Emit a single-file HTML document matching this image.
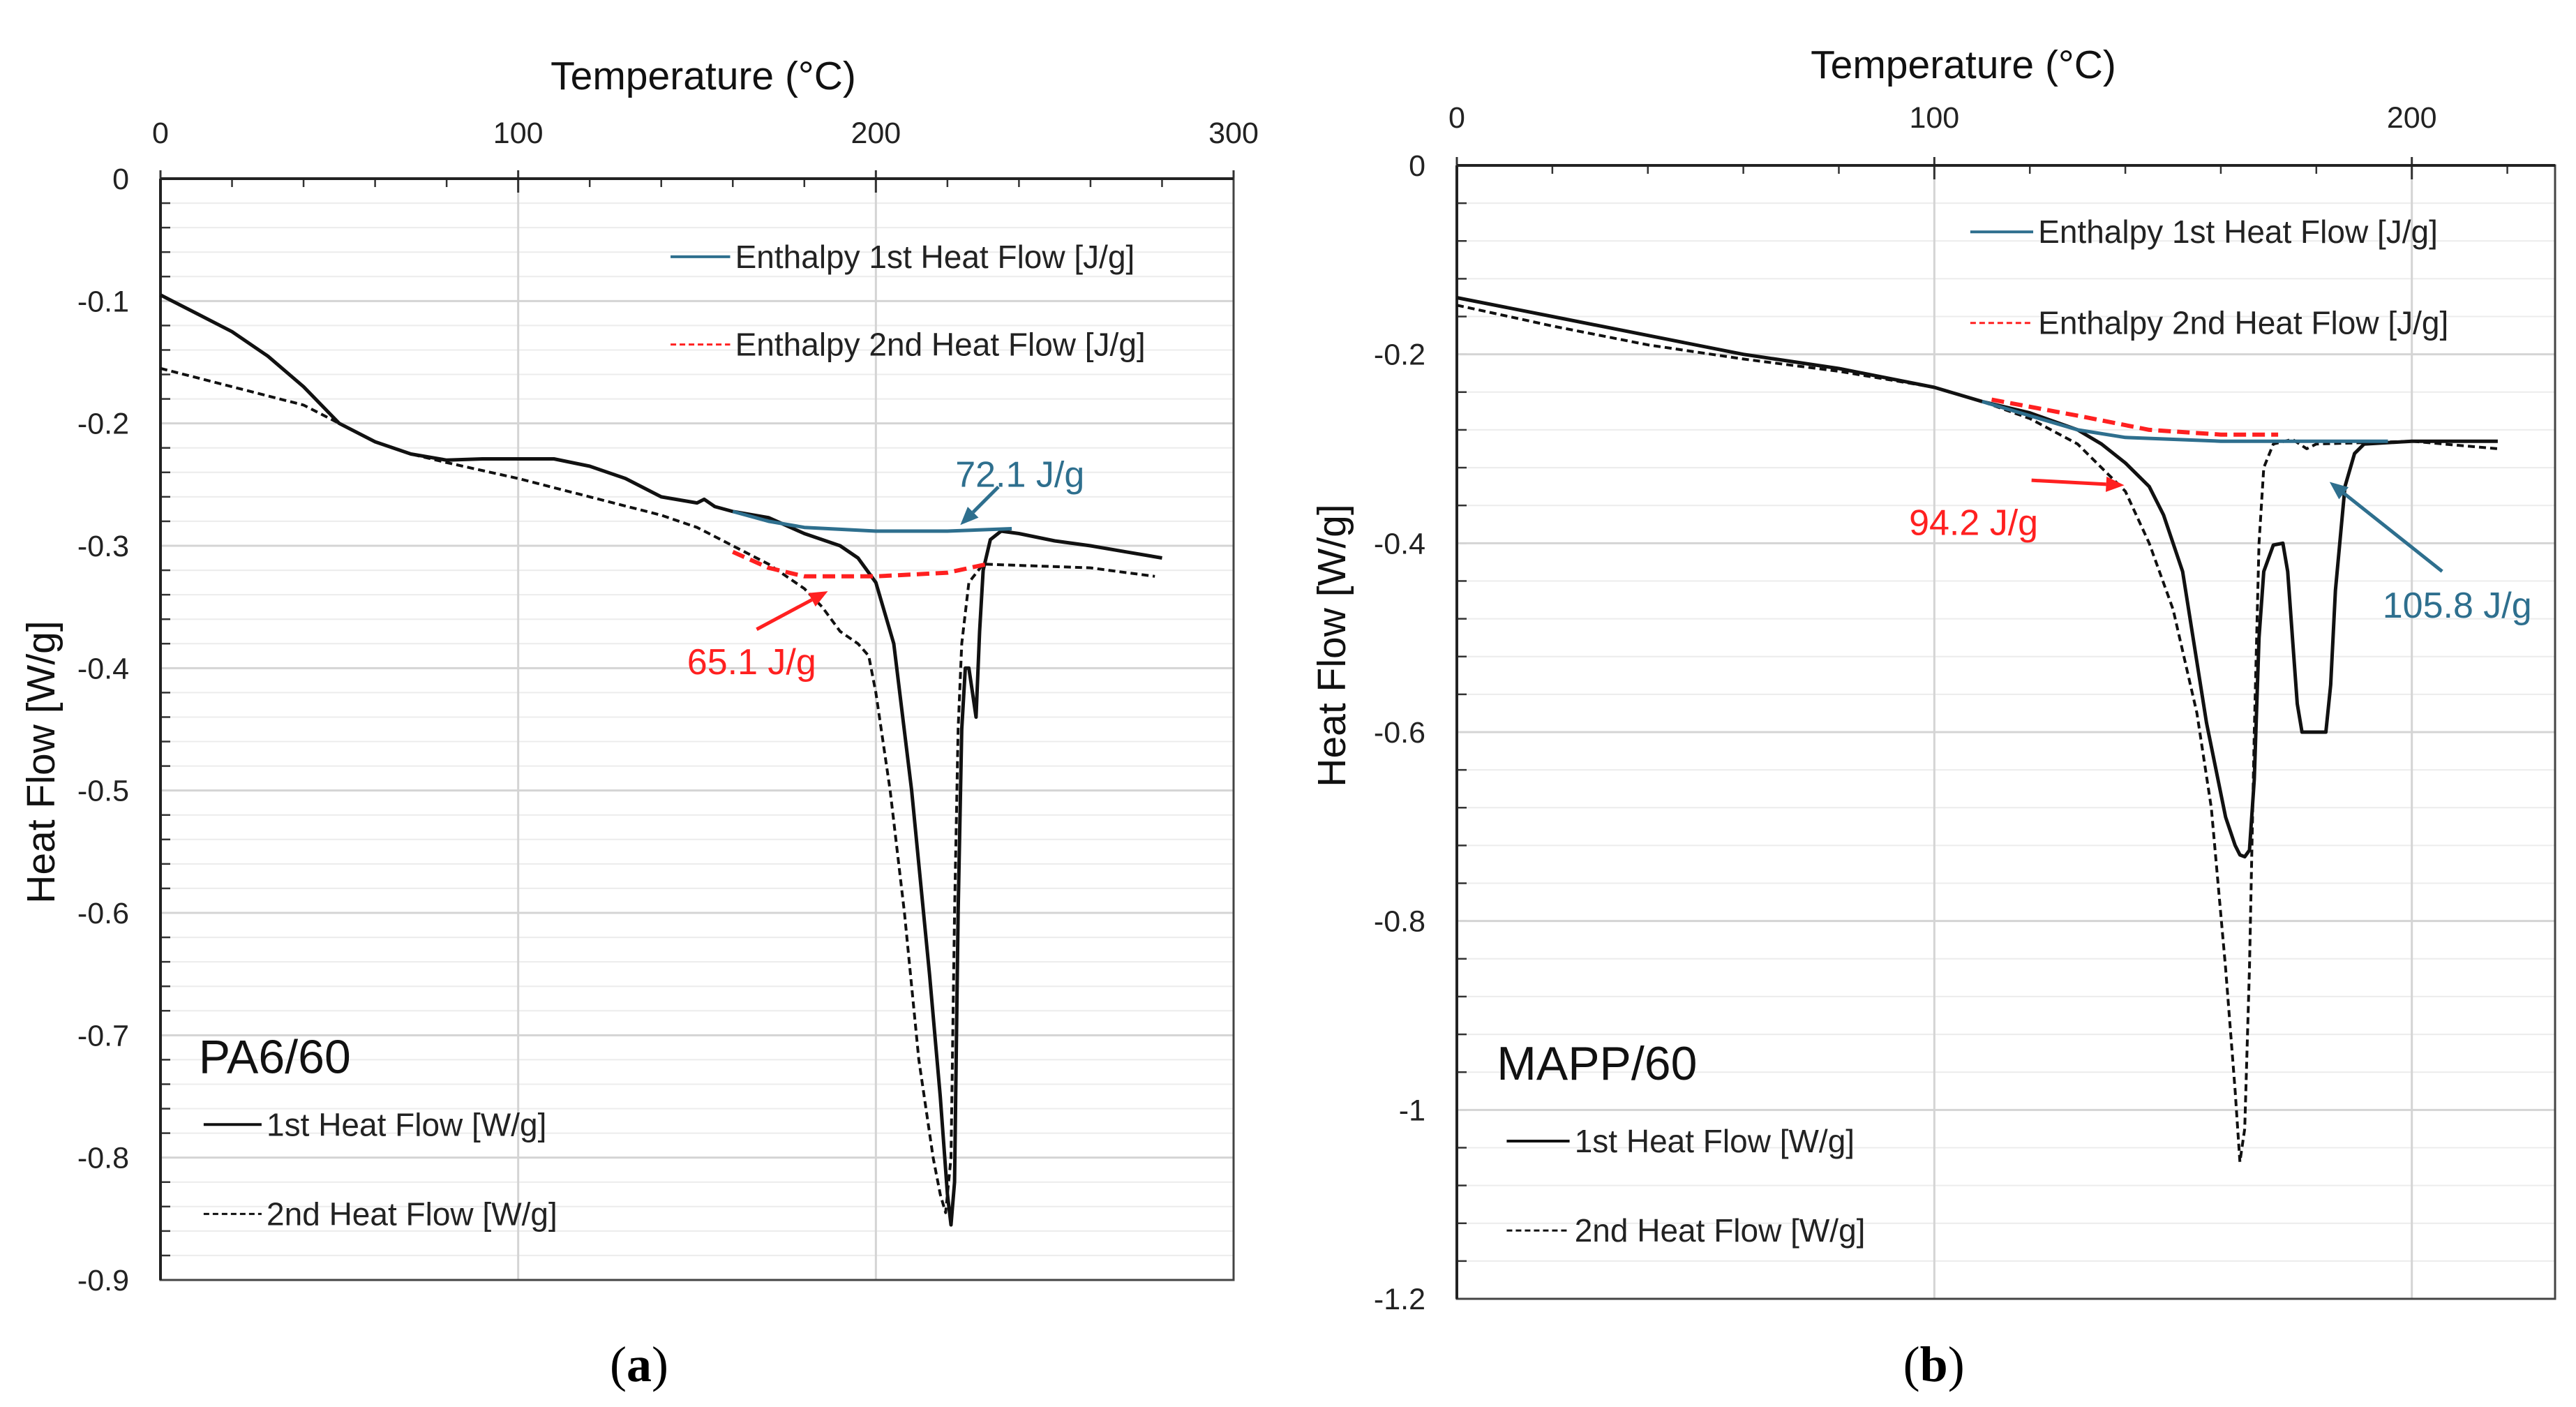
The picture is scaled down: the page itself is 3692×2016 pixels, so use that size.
<!DOCTYPE html>
<html><head><meta charset="utf-8"><style>
html,body{margin:0;padding:0;background:#fff}
svg{display:block;font-family:"Liberation Sans",sans-serif}
</style></head><body>
<svg id="fig" width="3692" height="2016" viewBox="0 0 3692 2016" xmlns="http://www.w3.org/2000/svg"></svg>
<script>
// ---------- Panel (a) PA6/60 data ----------
const aFirstT = [0,10,20,30,40,50,60,70,80,90,100,110,120,130,140,150,152,155,160,170,180,190,195,200,205,210,215,218,220,221,222,223,224,225,226,227,228,229,230,232,235,240,250,260,270,280];
const aFirstV = [-0.095,-0.11,-0.125,-0.145,-0.17,-0.2,-0.215,-0.225,-0.23,-0.229,-0.229,-0.229,-0.235,-0.245,-0.26,-0.265,-0.262,-0.268,-0.272,-0.277,-0.29,-0.3,-0.31,-0.33,-0.38,-0.5,-0.65,-0.75,-0.83,-0.855,-0.82,-0.6,-0.45,-0.4,-0.4,-0.42,-0.44,-0.37,-0.32,-0.295,-0.288,-0.29,-0.296,-0.3,-0.305,-0.31];
const aSecondT = [0,20,40,50,60,70,80,100,120,140,150,160,170,180,185,190,195,198,200,204,208,212,216,218,219.5,221,222,223,224,226,230,240,260,265,278];
const aSecondV = [-0.155,-0.17,-0.185,-0.2,-0.215,-0.225,-0.232,-0.245,-0.26,-0.275,-0.285,-0.3,-0.315,-0.335,-0.35,-0.37,-0.38,-0.39,-0.42,-0.5,-0.6,-0.72,-0.8,-0.83,-0.845,-0.8,-0.6,-0.45,-0.38,-0.33,-0.315,-0.316,-0.318,-0.32,-0.325];
const aEnth1T = [160,170,180,200,220,238];
const aEnth1V = [-0.272,-0.28,-0.285,-0.288,-0.288,-0.286];
const aEnth2T = [160,170,180,200,220,231];
const aEnth2V = [-0.305,-0.318,-0.325,-0.325,-0.322,-0.315];
const aXTicks = [0,100,200,300];
const aYTicks = [0,-0.1,-0.2,-0.3,-0.4,-0.5,-0.6,-0.7,-0.8,-0.9];
const aYLabels = ["0","-0.1","-0.2","-0.3","-0.4","-0.5","-0.6","-0.7","-0.8","-0.9"];

// ---------- Panel (b) MAPP/60 data ----------
const bFirstT = [0,20,40,60,80,100,110,120,130,135,140,145,148,152,157,161,163,164,165,166,167,168,169,171,173,174,175,176,177,182,183,184,186,188,190,200,218];
const bFirstV = [-0.14,-0.16,-0.18,-0.2,-0.215,-0.235,-0.25,-0.262,-0.28,-0.295,-0.315,-0.34,-0.37,-0.43,-0.59,-0.69,-0.72,-0.73,-0.732,-0.725,-0.65,-0.5,-0.43,-0.402,-0.4,-0.43,-0.5,-0.57,-0.6,-0.6,-0.55,-0.45,-0.34,-0.305,-0.295,-0.292,-0.292];
const bSecondT = [0,20,40,60,80,100,110,120,130,135,140,145,150,155,158,161,163,164,165,166,167,168,169,171,175,178,180,200,218];
const bSecondV = [-0.148,-0.17,-0.19,-0.205,-0.218,-0.235,-0.25,-0.268,-0.295,-0.32,-0.345,-0.4,-0.47,-0.58,-0.68,-0.85,-0.98,-1.055,-1.02,-0.85,-0.6,-0.4,-0.32,-0.295,-0.29,-0.3,-0.295,-0.292,-0.3];
const bEnth1T = [110,120,130,140,160,195];
const bEnth1V = [-0.25,-0.265,-0.28,-0.288,-0.292,-0.292];
const bEnth2T = [112,130,145,160,172];
const bEnth2V = [-0.248,-0.265,-0.28,-0.285,-0.285];
const bXTicks = [0,100,200];
const bYTicks = [0,-0.2,-0.4,-0.6,-0.8,-1,-1.2];
const bYLabels = ["0","-0.2","-0.4","-0.6","-0.8","-1","-1.2"];

const NS="http://www.w3.org/2000/svg";
const svg=document.getElementById('fig');
function mk(tag,attrs,parent){const e=document.createElementNS(NS,tag);for(const k in attrs)e.setAttribute(k,attrs[k]);(parent||svg).appendChild(e);return e;}
function txt(s,attrs,parent){const e=mk('text',attrs,parent);e.textContent=s;return e;}

function panel(cfg){
  const g=mk('g',{});
  
  
  const X=t=>cfg.L+(t-cfg.x0)/(cfg.x1-cfg.x0)*(cfg.R-cfg.L);
  const Y=v=>cfg.T+(v-cfg.y0)/(cfg.y1-cfg.y0)*(cfg.B-cfg.T);
  for(let v=cfg.y0;v>=cfg.y1-1e-9;v-=cfg.yMinor){
    const l=mk('line',{x1:cfg.L,x2:cfg.R,y1:Y(v),y2:Y(v),stroke:'#ececec','stroke-width':2},g);
    
    
    const tk=mk('line',{x1:cfg.L,x2:cfg.L+14,y1:Y(v),y2:Y(v),stroke:'#333','stroke-width':2.5},g);
    
    
  }
  cfg.yTicks.forEach((v,i)=>{
    const l=mk('line',{x1:cfg.L,x2:cfg.R,y1:Y(v),y2:Y(v),stroke:'#d4d4d4','stroke-width':3},g);
    
    
    const t=txt(cfg.yLabels[i],{x:cfg.L-45,y:Y(v)+15,'text-anchor':'end','font-size':43,fill:'#222'},g);
    
    
  });
  for(let t=cfg.x0;t<=cfg.x1+1e-9;t+=cfg.xMinor){
    const tk=mk('line',{x1:X(t),x2:X(t),y1:cfg.T,y2:cfg.T+12,stroke:'#333','stroke-width':2.5},g);
    
    
  }
  cfg.xTicks.forEach(t=>{
    const l=mk('line',{x1:X(t),x2:X(t),y1:cfg.T,y2:cfg.B,stroke:'#d4d4d4','stroke-width':3},g);
    
    
    const tk=mk('line',{x1:X(t),x2:X(t),y1:cfg.T-12,y2:cfg.T+20,stroke:'#333','stroke-width':3},g);
    
    
    const lb=txt(String(t),{x:X(t),y:cfg.xLabelY,'text-anchor':'middle','font-size':43,fill:'#222'},g);
    
    
  });
  const fr=mk('rect',{x:cfg.L,y:cfg.T,width:cfg.R-cfg.L,height:cfg.B-cfg.T,fill:'none',stroke:'#444','stroke-width':3},g);
  
  
  const ax=mk('line',{x1:cfg.L,x2:cfg.L,y1:cfg.T,y2:cfg.B,stroke:'#222','stroke-width':4},g);
  
  
  const ax2=mk('line',{x1:cfg.L,x2:cfg.R,y1:cfg.T,y2:cfg.T,stroke:'#222','stroke-width':4},g);
  
  
  const xt=txt('Temperature (°C)',{x:cfg.xTitleX,y:cfg.xTitleY,'text-anchor':'middle','font-size':57,fill:'#111'},g);
  
  
  const yt=txt('Heat Flow [W/g]',{x:0,y:0,'text-anchor':'middle','font-size':57,fill:'#111',transform:`translate(${cfg.yTitleX},${cfg.yTitleY}) rotate(-90)`},g);
  
  
  function series(T,V,name,stroke,w,dash){
    const d=T.map((t,i)=>(i?'L':'M')+X(t).toFixed(1)+','+Y(V[i]).toFixed(1)).join(' ');
    const p=mk('path',{d:d,fill:'none',stroke:stroke,'stroke-width':w,'stroke-linejoin':'round'},g);
    if(dash)p.setAttribute('stroke-dasharray',dash);
    
    
  }
  series(cfg.s2T,cfg.s2V,'second-heat-flow-line','#111',4,'10 6');
  series(cfg.s1T,cfg.s1V,'first-heat-flow-line','#111',5,null);
  series(cfg.e1T,cfg.e1V,'enthalpy-first-line','#2e6f8e',5,null);
  series(cfg.e2T,cfg.e2V,'enthalpy-second-line','#ff2020',6,'18 9');
  return g;
}

const S=2.373;
const ga=panel({name:'panel-a-pa6',L:230,R:1768,T:256,B:1834,x0:0,x1:300,y0:0,y1:-0.9,yMinor:0.02,xMinor:20,
  xTicks:aXTicks,yTicks:aYTicks,yLabels:aYLabels,xLabelY:205,xTitleX:1008,xTitleY:128,yTitleX:78,yTitleY:1092,
  s1T:aFirstT,s1V:aFirstV,s2T:aSecondT,s2V:aSecondV,e1T:aEnth1T,e1V:aEnth1V,e2T:aEnth2T,e2V:aEnth2V});
const gb=panel({name:'panel-b-mapp',L:2088,R:3662,T:237,B:1861,x0:0,x1:230,y0:0,y1:-1.2,yMinor:0.04,xMinor:20,
  xTicks:bXTicks,yTicks:bYTicks,yLabels:bYLabels,xLabelY:183,xTitleX:2814,xTitleY:112,yTitleX:1928,yTitleY:925,
  s1T:bFirstT,s1V:bFirstV,s2T:bSecondT,s2V:bSecondV,e1T:bEnth1T,e1V:bEnth1V,e2T:bEnth2T,e2V:bEnth2V});

function legend(g,x1,x2,y,label,stroke,w,dash){
  const l=mk('line',{x1:x1*S,x2:x2*S,y1:y*S,y2:y*S,stroke:stroke,'stroke-width':w},g);
  if(dash)l.setAttribute('stroke-dasharray',dash);
  
  
  const t=txt(label,{x:(x2+3)*S,y:y*S+16,'font-size':46,fill:'#222'},g);
  
  
}
legend(ga,405,441,155,'Enthalpy 1st Heat Flow [J/g]','#2e6f8e',4,null);
legend(ga,405,441,208,'Enthalpy 2nd Heat Flow [J/g]','#ff2020',3,'8 5');
legend(ga,123,158,679,'1st Heat Flow [W/g]','#111',4,null);
legend(ga,123,158,733,'2nd Heat Flow [W/g]','#111',3,'8 5');
legend(gb,1190,1228,140,'Enthalpy 1st Heat Flow [J/g]','#2e6f8e',4,null);
legend(gb,1190,1228,195,'Enthalpy 2nd Heat Flow [J/g]','#ff2020',3,'8 5');
legend(gb,910,948,689,'1st Heat Flow [W/g]','#111',4,null);
legend(gb,910,948,743,'2nd Heat Flow [W/g]','#111',3,'8 5');

function label(g,s,x,y,size,fill,name,anchor){
  const t=txt(s,{x:x*S,y:y*S,'font-size':size,fill:fill,'text-anchor':anchor||'start'},g);
  
  
}
label(ga,'PA6/60',120,648,68,'#111','sample-label');
label(gb,'MAPP/60',904,652,68,'#111','sample-label');
label(ga,'72.1 J/g',577,294,52,'#2e6f8e','enthalpy-first-annotation');
label(ga,'65.1 J/g',415,407,52,'#ff2020','enthalpy-second-annotation');
label(gb,'94.2 J/g',1153,323,52,'#ff2020','enthalpy-second-annotation');
label(gb,'105.8 J/g',1439,373,52,'#2e6f8e','enthalpy-first-annotation');

function arrow(g,xa,ya,xb,yb,col,name){
  const x1=xa*S,y1=ya*S,x2=xb*S,y2=yb*S;
  const ang=Math.atan2(y2-y1,x2-x1),h=26,w=11;
  const bx=x2-h*Math.cos(ang),by=y2-h*Math.sin(ang);
  const l=mk('line',{x1:x1,y1:y1,x2:bx,y2:by,stroke:col,'stroke-width':5},g);
  
  
  const p=mk('polygon',{points:`${x2},${y2} ${bx+w*Math.sin(ang)},${by-w*Math.cos(ang)} ${bx-w*Math.sin(ang)},${by+w*Math.cos(ang)}`,fill:col},g);
  
  
}
arrow(ga,603,294,580,317,'#2e6f8e','annotation-arrow');
arrow(ga,457,380,500,357,'#ff2020','annotation-arrow');
arrow(gb,1227,290,1283,293,'#ff2020','annotation-arrow');
arrow(gb,1475,345,1407,291,'#2e6f8e','annotation-arrow');

function cap(s,x,name){
  const t=mk('text',{x:x*S,y:834*S,'text-anchor':'middle','font-size':72,'font-family':'"Liberation Serif",serif',fill:'#000'});
  t.innerHTML='(<tspan font-weight="bold">'+s+'</tspan>)';
  
  
}
cap('a',386,'panel-a-caption');
cap('b',1168,'panel-b-caption');
</script>
</body></html>
